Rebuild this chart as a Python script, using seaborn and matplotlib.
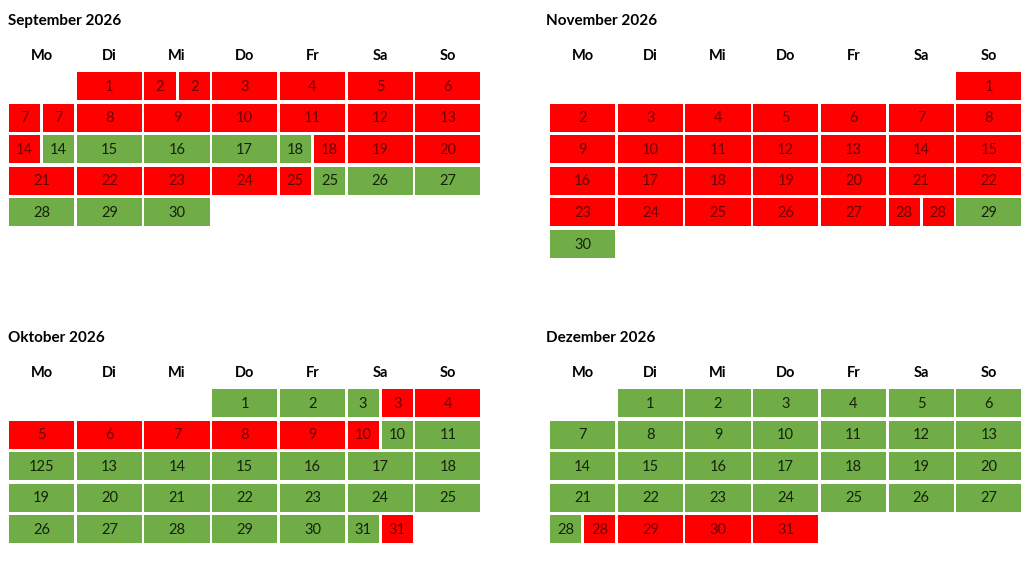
import numpy as np
import pandas as pd
import matplotlib
matplotlib.use("Agg")
import matplotlib.pyplot as plt
import seaborn as sns

# ---- data ----
weekdays = ["Mo", "Di", "Mi", "Do", "Fr", "Sa", "So"]

months = ["September 2026", "November 2026", "Oktober 2026", "Dezember 2026"]
first_weekday = [1, 6, 3, 1]   # 0 = Mo

# r = rot, g = grün, two letters = cell split in two halves
sep_status = ["r", "rr", "r", "r", "r", "r",
              "rr", "r", "r", "r", "r", "r", "r",
              "rg", "g", "g", "g", "gr", "r", "r",
              "r", "r", "r", "r", "rg", "g", "g",
              "g", "g", "g"]
nov_status = ["r",
              "r", "r", "r", "r", "r", "r", "r",
              "r", "r", "r", "r", "r", "r", "r",
              "r", "r", "r", "r", "r", "r", "r",
              "r", "r", "r", "r", "r", "rr", "g",
              "g"]
okt_status = ["g", "g", "gr", "r",
              "r", "r", "r", "r", "r", "rg", "g",
              "g", "g", "g", "g", "g", "g", "g",
              "g", "g", "g", "g", "g", "g", "g",
              "g", "g", "g", "g", "g", "gr"]
dez_status = ["g", "g", "g", "g", "g", "g",
              "g", "g", "g", "g", "g", "g", "g",
              "g", "g", "g", "g", "g", "g", "g",
              "g", "g", "g", "g", "g", "g", "g",
              "gr", "r", "r", "r"]
statuses = [sep_status, nov_status, okt_status, dez_status]

# label as printed in the original (12. Oktober reads "125")
label_fix = {("Oktober 2026", 12): "125"}

# ---- style ----
sns.set_theme(style="white")
plt.rcParams["font.family"] = ["Lato", "DejaVu Sans"]

fill = {"r": "#FF0000", "g": "#70AD47"}
ink = {"r": "#6E0000", "g": "#15220C"}

W, H = 1028, 567
fig = plt.figure(figsize=(W / 100, H / 100), dpi=100)

# panel grid origins in pixels (left, top) and title offset
origins = [(9, 72), (550, 72), (9, 389), (550, 389)]
title_dx = [-0.015, -0.06, -0.015, -0.06]
pitch_x, pitch_y = 67.7, 31.6
cell_w, cell_h = 0.964, 0.886
half_gap = 0.044

for name, fw, st, (L, T), tdx in zip(months, first_weekday, statuses, origins, title_dx):
    rows = []
    for d, s in enumerate(st, start=1):
        pos = fw + d - 1
        rows.append({"day": d, "col": pos % 7, "week": pos // 7, "status": s,
                     "label": label_fix.get((name, d), str(d))})
    df = pd.DataFrame(rows)

    aw, ah = 7 * pitch_x, 6 * pitch_y
    ax = fig.add_axes([L / W, 1 - (T + ah) / H, aw / W, ah / H])
    ax.set_xlim(0, 7)
    ax.set_ylim(6, 0)
    ax.axis("off")

    for _, r in df.iterrows():
        parts = r["status"]
        if len(parts) == 1:
            ax.bar(r["col"], cell_h, width=cell_w, bottom=r["week"], align="edge",
                   color=fill[parts], linewidth=0)
            ax.text(r["col"] + cell_w / 2, r["week"] + cell_h / 2 + 0.02, r["label"],
                    ha="center", va="center", fontsize=10.5, color=ink[parts])
        else:
            hw = (cell_w - half_gap) / 2
            for k, p in enumerate(parts):
                x0 = r["col"] + k * (hw + half_gap)
                ax.bar(x0, cell_h, width=hw, bottom=r["week"], align="edge",
                       color=fill[p], linewidth=0)
                ax.text(x0 + hw / 2, r["week"] + cell_h / 2 + 0.02, r["label"],
                        ha="center", va="center", fontsize=10.5, color=ink[p])

    for i, wd in enumerate(weekdays):
        ax.text(i + cell_w / 2, -0.5, wd, ha="center", va="center",
                fontsize=10.5, fontweight="bold", color="black", clip_on=False)
    ax.text(tdx, -1.62, name, ha="left", va="center", fontsize=11,
            fontweight="bold", color="black", clip_on=False)

fig.savefig("out.png", dpi=100, facecolor="white")
